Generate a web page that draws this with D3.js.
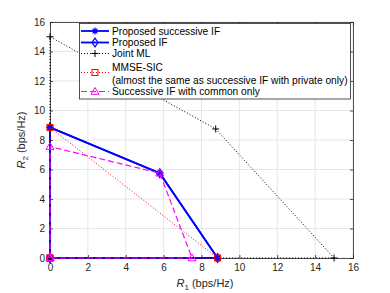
<!DOCTYPE html>
<html>
<head>
<meta charset="UTF-8">
<style>
body { margin: 0; background: #fff; }
svg { display: block; font-family: "Liberation Sans", Arial, sans-serif; }
</style>
</head>
<body>
<div id="vis"></div>
<script src="https://d3js.org/d3.v7.min.js"></script>
<script>
// rate region vertices (R1, R2), bps/Hz
var legendNames = ["Proposed successive IF", "Proposed IF", "Joint ML",
	"MMSE-SIC", "Successive IF with common only"];
var succIF_r1 = [0, 0, 5.8, 8.85, 0];
var succIF_r2 = [0, 8.85, 5.75, 0, 0];
var propIF_r1 = [0, 0, 5.8, 8.85, 0];
var propIF_r2 = [0, 8.85, 5.75, 0, 0];
var jml_r1 = [0, 0, 8.75, 15, 0];
var jml_r2 = [0, 15, 8.75, 0, 0];
var mmse_r1 = [0, 0, 8.85, 0];
var mmse_r2 = [0, 8.85, 0, 0];
var common_r1 = [0, 0, 5.8, 7.5, 0];
var common_r2 = [0, 7.55, 5.75, 0, 0];
var xTicks = [0, 2, 4, 6, 8, 10, 12, 14, 16];
var yTicks = [0, 2, 4, 6, 8, 10, 12, 14, 16];

var width = 390, height = 293;
var margin = {top: 22, right: 37, bottom: 35, left: 50};

var svg = d3.select("#vis").append("svg")
	.attr("width", width)
	.attr("height", height);

var x = d3.scaleLinear().domain([0, 16]).range([margin.left, width - margin.right]);
var y = d3.scaleLinear().domain([0, 16]).range([height - margin.bottom, margin.top]);

// grid
svg.append("g").selectAll("line.gx").data(xTicks).enter().append("line")
	.attr("x1", function(d) { return x(d); }).attr("x2", function(d) { return x(d); })
	.attr("y1", y(0)).attr("y2", y(16))
	.attr("stroke", "#e6e6e6").attr("stroke-width", 1);
svg.append("g").selectAll("line.gy").data(yTicks).enter().append("line")
	.attr("y1", function(d) { return y(d); }).attr("y2", function(d) { return y(d); })
	.attr("x1", x(0)).attr("x2", x(16))
	.attr("stroke", "#e6e6e6").attr("stroke-width", 1);

// axes (ticks inside, box on)
var ax = svg.append("g").attr("transform", "translate(0," + y(0) + ")")
	.call(d3.axisBottom(x).tickValues(xTicks).tickSize(-3).tickPadding(6));
var ay = svg.append("g").attr("transform", "translate(" + x(0) + ",0)")
	.call(d3.axisLeft(y).tickValues(yTicks).tickSize(-3).tickPadding(5));
var axT = svg.append("g").attr("transform", "translate(0," + y(16) + ")")
	.call(d3.axisTop(x).tickValues(xTicks).tickSize(-3).tickFormat(""));
var ayR = svg.append("g").attr("transform", "translate(" + x(16) + ",0)")
	.call(d3.axisRight(y).tickValues(yTicks).tickSize(-3).tickFormat(""));
[ax, ay, axT, ayR].forEach(function(g) {
	g.selectAll("path").attr("stroke", "#262626").attr("stroke-width", 0.8);
	g.selectAll("line").attr("stroke", "#262626").attr("stroke-width", 0.8);
	g.selectAll("text").attr("fill", "#262626").style("font-size", "10px")
		.style("font-family", "'Liberation Sans', Arial, sans-serif");
});

var line = d3.line().x(function(d) { return x(d[0]); }).y(function(d) { return y(d[1]); });
function pts(a, b) { return a.map(function(v, i) { return [v, b[i]]; }); }

var series = [
	{data: pts(succIF_r1, succIF_r2), color: "#0000ff", width: 1.8, dash: null, marker: "star"},
	{data: pts(propIF_r1, propIF_r2), color: "#0000ff", width: 1.8, dash: null, marker: "diamond"},
	{data: pts(jml_r1, jml_r2), color: "#000000", width: 1, dash: "1,2", marker: "plus"},
	{data: pts(mmse_r1, mmse_r2), color: "#ff0000", width: 1, dash: "1,2", marker: "square"},
	{data: pts(common_r1, common_r2), color: "#ff00ff", width: 1.2, dash: "6,3", marker: "triangle"}
];

function drawMarker(g, type, cx, cy, color) {
	if (type == "star") {
		var s = 3.5;
		g.append("path")
			.attr("d", "M" + (cx - s) + "," + cy + "H" + (cx + s) +
				"M" + cx + "," + (cy - s) + "V" + (cy + s) +
				"M" + (cx - s * 0.7) + "," + (cy - s * 0.7) + "L" + (cx + s * 0.7) + "," + (cy + s * 0.7) +
				"M" + (cx - s * 0.7) + "," + (cy + s * 0.7) + "L" + (cx + s * 0.7) + "," + (cy - s * 0.7))
			.attr("stroke", color).attr("stroke-width", 1.2).attr("fill", "none");
	} else if (type == "plus") {
		var p = 3.5;
		g.append("path")
			.attr("d", "M" + (cx - p) + "," + cy + "H" + (cx + p) + "M" + cx + "," + (cy - p) + "V" + (cy + p))
			.attr("stroke", color).attr("stroke-width", 1).attr("fill", "none");
	} else if (type == "diamond") {
		var dd = 4;
		g.append("path")
			.attr("d", "M" + cx + "," + (cy - dd * 1.1) + "L" + (cx + dd * 0.75) + "," + cy +
				"L" + cx + "," + (cy + dd * 1.1) + "L" + (cx - dd * 0.75) + "," + cy + "Z")
			.attr("stroke", color).attr("stroke-width", 1.2).attr("fill", "none");
	} else if (type == "square") {
		g.append("rect").attr("x", cx - 3).attr("y", cy - 3).attr("width", 6).attr("height", 6)
			.attr("stroke", color).attr("stroke-width", 1).attr("fill", "none");
	} else if (type == "triangle") {
		var t = 4;
		g.append("path")
			.attr("d", "M" + cx + "," + (cy - t) + "L" + (cx + t) + "," + (cy + t * 0.7) +
				"L" + (cx - t) + "," + (cy + t * 0.7) + "Z")
			.attr("stroke", color).attr("stroke-width", 1).attr("fill", "none");
	}
}

var plot = svg.append("g");
series.forEach(function(s) {
	plot.append("path")
		.attr("d", line(s.data))
		.attr("fill", "none")
		.attr("stroke", s.color)
		.attr("stroke-width", s.width)
		.attr("stroke-dasharray", s.dash);
	var mg = plot.append("g");
	s.data.forEach(function(d) { drawMarker(mg, s.marker, x(d[0]), y(d[1]), s.color); });
});

// axis labels
var xl = svg.append("text").attr("x", 205).attr("y", 287).attr("text-anchor", "middle")
	.attr("fill", "#262626").style("font-size", "11px");
xl.append("tspan").style("font-style", "italic").text("R");
xl.append("tspan").attr("dy", 3).style("font-size", "8px").text("1");
xl.append("tspan").attr("dy", -3).text(" (bps/Hz)");

var yl = svg.append("text").attr("transform", "translate(25,140) rotate(-90)")
	.attr("text-anchor", "middle").attr("fill", "#262626").style("font-size", "11px");
yl.append("tspan").style("font-style", "italic").text("R");
yl.append("tspan").attr("dy", 3).style("font-size", "8px").text("2");
yl.append("tspan").attr("dy", -3).text(" (bps/Hz)");

// legend
var lg = svg.append("g");
lg.append("rect").attr("x", 79.5).attr("y", 23.5).attr("width", 271).attr("height", 75.5)
	.attr("fill", "#fff").attr("stroke", "#262626").attr("stroke-width", 0.8);
var rowsY = [31, 42.5, 53.5, 72.5, 91.5];
series.forEach(function(s, i) {
	var yy = rowsY[i];
	lg.append("line").attr("x1", 81).attr("x2", 109).attr("y1", yy).attr("y2", yy)
		.attr("stroke", s.color).attr("stroke-width", s.width).attr("stroke-dasharray", s.dash);
	drawMarker(lg, s.marker, 95, yy, s.color);
});
var fs = "10.2px";
[0, 1, 2].forEach(function(i) {
	lg.append("text").attr("x", 112).attr("y", rowsY[i] + 3.5).attr("fill", "#000")
		.style("font-size", fs).text(legendNames[i]);
});
lg.append("text").attr("x", 112).attr("y", 71).attr("fill", "#000").style("font-size", fs).text(legendNames[3]);
lg.append("text").attr("x", 112).attr("y", 83.5).attr("fill", "#000").style("font-size", fs)
	.text("(almost the same as successive IF with private only)");
lg.append("text").attr("x", 112).attr("y", 95).attr("fill", "#000").style("font-size", fs).text(legendNames[4]);
</script>
</body>
</html>
